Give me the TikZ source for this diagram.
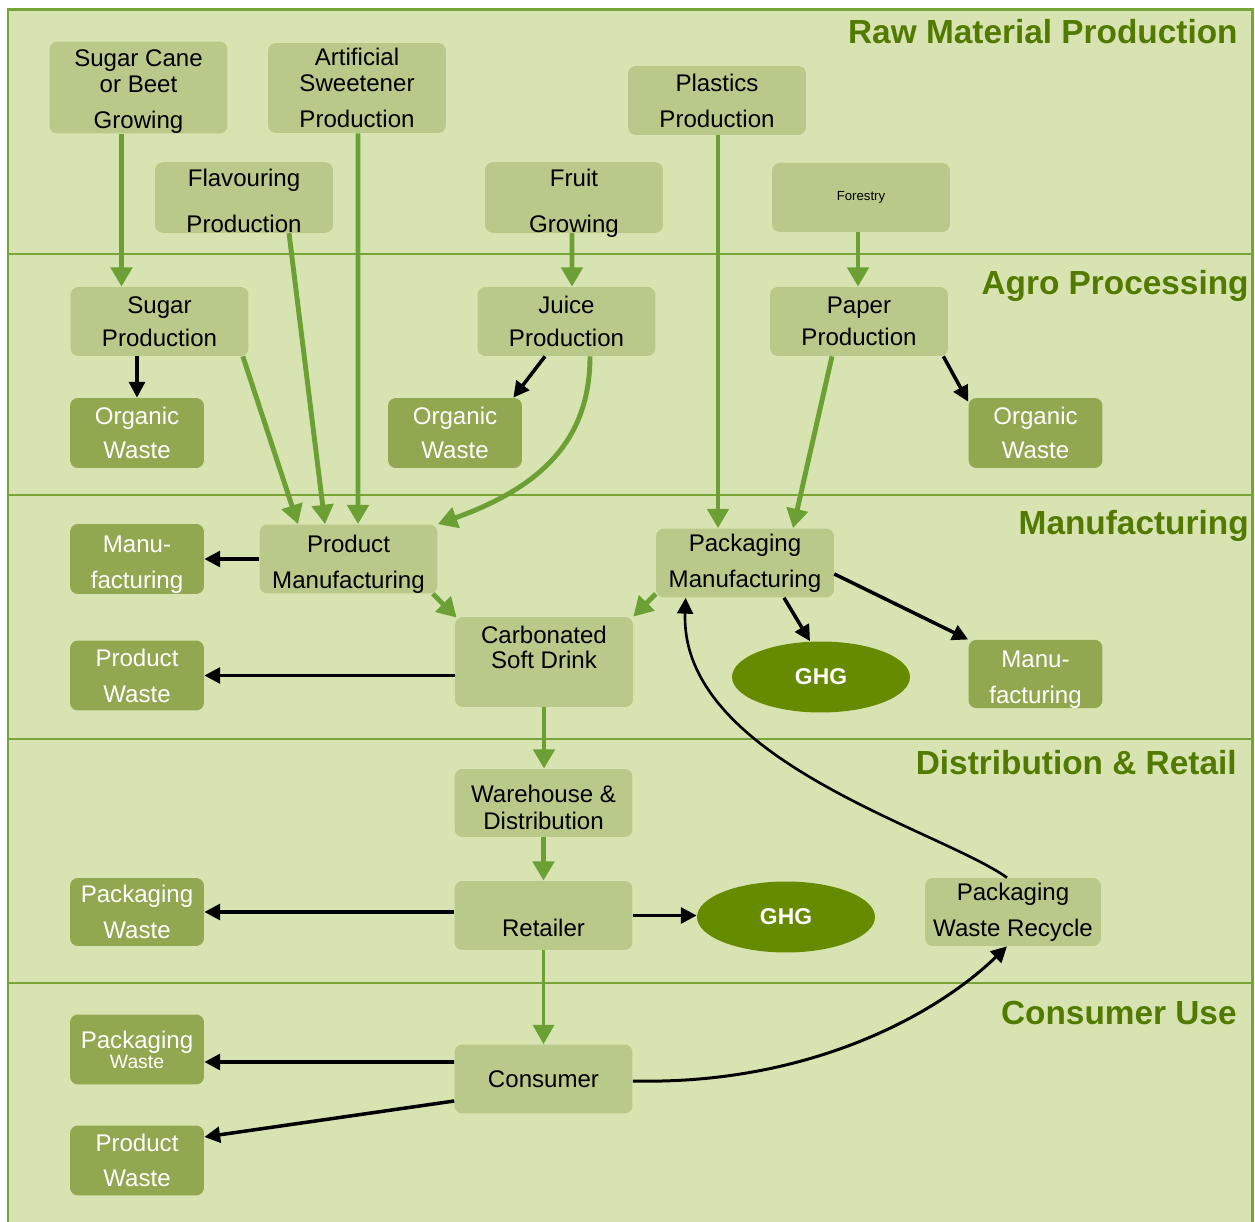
\documentclass[tikz,border=0pt]{standalone}
\usepackage{fontspec}
\setmainfont{Liberation Sans}
\usetikzlibrary{arrows.meta,calc,shapes.geometric}
\definecolor{lanebg}{RGB}{215,228,177}
\definecolor{laneline}{RGB}{120,165,55}
\definecolor{boxfill}{RGB}{185,201,138}
\definecolor{wastefill}{RGB}{146,168,80}
\definecolor{ghgfill}{RGB}{102,139,0}
\definecolor{headtext}{RGB}{82,122,0}
\definecolor{flowgreen}{RGB}{108,160,52}
\newcommand\pushdown{\mbox{}\\[0pt]}
\tikzset{
  stage/.style={fill=boxfill, rounded corners=4.5pt, align=center, inner sep=0pt,
    minimum width=3.56cm, minimum height=1.38cm, font=\fontsize{13.7}{14.5}\selectfont},
  waste/.style={stage, fill=wastefill, text=white, minimum width=2.68cm, minimum height=1.4cm},
  lowtext/.style={text height=40.2pt, text depth=-1.2pt},
  ghg/.style={ellipse, fill=ghgfill, text=white, minimum width=3.56cm, minimum height=1.42cm,
    inner sep=0pt, font=\fontsize{13}{14.5}\selectfont\bfseries},
  lane/.style={anchor=east, inner sep=0pt, text=headtext, font=\fontsize{19}{21}\selectfont\bfseries},
  flow/.style={draw=flowgreen, line width=2.8pt, -{Triangle[width=12pt,length=11pt]}},
  loss/.style={draw=black, line width=2pt, -{Triangle[width=9pt,length=9pt]}},
}
\begin{document}
\begin{tikzpicture}[x=0.02cm,y=-0.02cm]
\useasboundingbox (0,0) rectangle (1255,1222);
\fill[white] (0,0) rectangle (1255,1222);
\draw[laneline, line width=1.7pt, fill=lanebg] (8,1224) -- (8,10) -- (1252,10) -- (1252,1224);
\foreach \y in {254,495,739,983}
  \draw[laneline, line width=1.7pt] (8,\y) -- (1252,\y);

\node[lane] (hraw) at (1238,32) {Raw Material Production};
\node[lane] (hagro) at (1249,286) {Agro Processing};
\node[lane] (hman) at (1249,526) {Manufacturing};
\node[lane] (hdist) at (1237,763) {Distribution \& Retail};
\node[lane] (hcons) at (1237,1013) {Consumer Use};

\node[stage, minimum height=1.78cm] (cane) at (138.5,87.5) {\pushdown Sugar Cane\\or Beet\\[6pt]Growing};
\node[stage, minimum height=1.8cm] (sweet) at (357,88) {Artificial\\Sweetener\\[6pt]Production};
\node[stage, lowtext] (flav) at (244,197.5) {Flavouring\\[12pt]Production};
\node[stage, lowtext] (fruit) at (574,197.5) {Fruit\\[12pt]Growing};
\node[stage] (plast) at (717,100.5) {Plastics\\[6pt]Production};
\node[stage, font=\fontsize{7.5}{9}\selectfont] (forest) at (861,197.5) {Forestry};
\node[stage] (sugar) at (159.5,321.5) {Sugar\\[4pt]Production};
\node[waste] (ow1) at (137,433) {Organic\\[5pt]Waste};
\node[stage] (juice) at (566.5,321.5) {Juice\\[4pt]Production};
\node[waste] (ow2) at (455,433) {Organic\\[5pt]Waste};
\node[stage] (paper) at (859,321.5) {Paper\\[4pt]Production};
\node[waste] (ow3) at (1035.5,433) {Organic\\[5pt]Waste};
\node[waste] (mfw1) at (137,559) {\mbox{}\\[1pt]Manu-\\[6pt]facturing};
\node[stage] (prodman) at (348.5,559) {\mbox{}\\[1pt]Product\\[6pt]Manufacturing};
\node[stage] (packman) at (745,563) {Packaging\\[6pt]Manufacturing};
\node[stage, minimum height=1.8cm] (csd) at (544,662) {Carbonated\\Soft Drink\\[2.5pt]\mbox{}};
\node[waste] (pw1) at (137,675.5) {Product\\[6pt]Waste};
\node[ghg] (ghg1) at (821,677) {GHG};
\node[waste, minimum height=1.36cm] (mfw2) at (1035.5,674) {\mbox{}\\[1pt]Manu-\\[6pt]facturing};
\node[stage, minimum height=1.36cm] (ware) at (543.5,803) {\pushdown Warehouse \&\\[1pt]Distribution};
\node[stage] (retail) at (543.5,915.5) {\mbox{}\\[10pt]Retailer};
\node[waste, minimum height=1.36cm] (pkw1) at (137,912) {Packaging\\[6pt]Waste};
\node[ghg] (ghg2) at (786,917) {GHG};
\node[stage, minimum width=3.52cm, minimum height=1.36cm] (recyc) at (1013,912) {Packaging\\[6pt]Waste Recycle};
\node[stage] (cons) at (543.5,1079) {Consumer};
\node[waste] (pkw2) at (137,1049.5) {Packaging\\[-3.2pt]{\fontsize{11}{12}\selectfont Waste}};
\node[waste] (pw2) at (137,1160.5) {Product\\[5pt]Waste};

\draw[flow] ($(cane.south)+(-17,0)$) -- ($(sugar.north)+(-38,0)$);
\draw[flow] ($(flav.south)+(45,0)$) -- ($(prodman.north)+(-23.5,0)$);
\draw[flow] ($(sweet.south)+(1,0)$) -- ($(prodman.north)+(9.5,0)$);
\draw[flow] ($(sugar.south east)+(-6,0)$) -- ($(prodman.north)+(-50.5,0)$);
\draw[flow] ($(fruit.south)+(-2,0)$) -- ($(juice.north)+(5.5,0)$);
\draw[flow] ($(juice.south)+(23.5,0)$) .. controls +(0,84) and +(103,-37) .. (prodman.north east);
\draw[flow] ($(plast.south)+(1,0)$) -- ($(packman.north)+(-27,0)$);
\draw[flow] ($(forest.south)+(-3,0)$) -- ($(paper.north)+(-1,0)$);
\draw[flow] ($(paper.south)+(-27,0)$) -- ($(packman.north)+(48,0)$);
\draw[flow] ($(prodman.south east)+(-5,0)$) -- ($(csd.north west)+(2,1)$);
\draw[flow] ($(packman.south west)+(0,-4)$) -- (csd.north east);
\draw[flow] (csd.south) -- (csd.south |- ware.north);
\draw[flow] (ware.south) -- (ware.south |- retail.north);
\draw[flow, line width=1.7pt] (retail.south) -- (retail.south |- cons.north);

\draw[loss] (sugar.south -| ow1.north) -- (ow1.north);
\draw[loss] ($(juice.south)+(-21.5,0)$) -- ($(ow2.north east)+(-9,0)$);
\draw[loss] ($(paper.south east)+(-5,0)$) -- ($(ow3.north west)+(0,4)$);
\draw[loss] (prodman.west) -- (mfw1.east);
\draw[loss] ($(packman.south)+(39,0)$) -- ($(ghg1.north)+(-11,0)$);
\draw[loss] ($(packman.east)+(0,11)$) -- (mfw2.north west);
\draw[loss] (pw1.east -| csd.west) -- (pw1.east);
\draw[loss] (pkw1.east -| retail.west) -- (pkw1.east);
\draw[loss] (retail.east) -- (retail.east -| ghg2.west);
\draw[loss] ($(cons.west)+(0,-17)$) -- ($(pkw2.east)+(0,12.5)$);
\draw[loss] ($(cons.west)+(0,22)$) -- ($(pw2.east)+(0,-23.5)$);
\draw[loss, line width=1.7pt] ($(cons.east)+(0,2)$) .. controls +(168,4) and +(-77,74) .. ($(recyc.south)+(-6,0)$);
\draw[loss, line width=1.5pt] ($(recyc.north)+(-6,0)$) .. controls +(-67,-48) and +(-6,162) .. ($(packman.south west)+(30,0)$);
\end{tikzpicture}
\end{document}
